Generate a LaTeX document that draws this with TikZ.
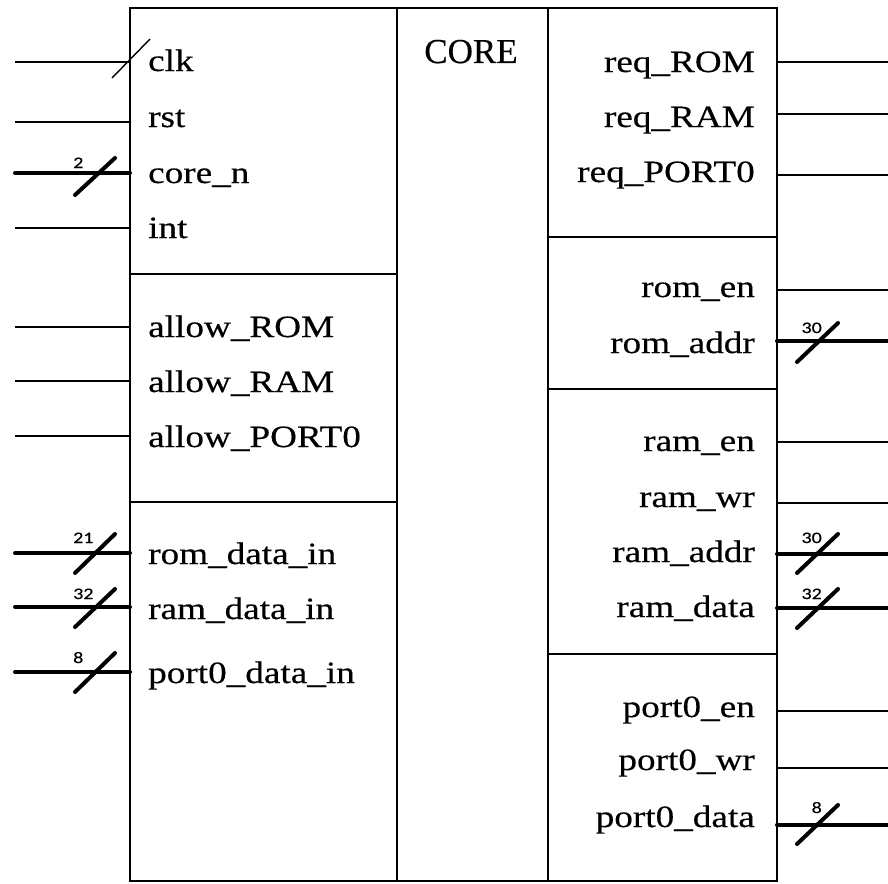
\documentclass[tikz,border=0pt]{standalone}
\usepackage{fontspec}
\setmainfont{Liberation Serif}
\newfontfamily\lblfont[FakeStretch=1.2,FakeBold=0.4]{Liberation Serif}
\newfontfamily\corefont[FakeBold=0.4]{Liberation Serif}
\newfontfamily\numfont[FakeStretch=1.25,FakeBold=0.3]{Carlito}
\usetikzlibrary{calc}
\begin{document}
\begin{tikzpicture}[x=1pt,y=-1pt,
  panel/.style={draw, line width=1.5pt, inner sep=0pt, outer sep=0pt, anchor=north west, rectangle},
  sig/.style={line width=1.4pt},
  bus/.style={line width=4pt, line cap=round},
  busslash/.style={line width=4pt, line cap=round},
  clkslash/.style={line width=1.4pt},
  lbll/.style={font=\lblfont\fontsize{31}{36}\selectfont, inner sep=0pt, anchor=base west},
  lblr/.style={font=\lblfont\fontsize{31}{36}\selectfont, inner sep=0pt, anchor=base east},
  numl/.style={font=\numfont\fontsize{16}{19}\selectfont, inner sep=0pt, anchor=base west},
  numr/.style={font=\numfont\fontsize{16}{19}\selectfont, inner sep=0pt, anchor=base east}]
\useasboundingbox (0,0) rectangle (888,883);

% panels
\node[panel, minimum width=267pt, minimum height=266pt] (L1) at (130,8) {};
\node[panel, minimum width=267pt, minimum height=228pt] (L2) at (130,274) {};
\node[panel, minimum width=267pt, minimum height=379pt] (L3) at (130,502) {};
\node[panel, minimum width=151pt, minimum height=873pt] (M) at (397,8) {};
\node[panel, minimum width=229pt, minimum height=229pt] (R1) at (548,8) {};
\node[panel, minimum width=229pt, minimum height=152pt] (R2) at (548,237) {};
\node[panel, minimum width=229pt, minimum height=265pt] (R3) at (548,389) {};
\node[panel, minimum width=229pt, minimum height=227pt] (R4) at (548,654) {};

\node[font=\corefont\fontsize{35}{40}\selectfont, inner sep=0pt, anchor=base] (core) at (471,63) {CORE};

% left labels
\node[lbll] (tclk) at (148,71) {clk};
\node[lbll] (trst) at (148,127) {rst};
\node[lbll] (tcoren) at (148,183) {core\_n};
\node[lbll] (tint) at (148,238) {int};
\node[lbll] (tarom) at (148,337) {allow\_ROM};
\node[lbll] (taram) at (148,392) {allow\_RAM};
\node[lbll] (taport) at (148,447) {allow\_PORT0};
\node[lbll] (tromd) at (148,564) {rom\_data\_in};
\node[lbll] (tramd) at (148,619) {ram\_data\_in};
\node[lbll] (tportd) at (148,683) {port0\_data\_in};

% right labels
\node[lblr] (trqrom) at (755,72) {req\_ROM};
\node[lblr] (trqram) at (755,127) {req\_RAM};
\node[lblr] (trqport) at (755,182) {req\_PORT0};
\node[lblr] (tromen) at (755,297) {rom\_en};
\node[lblr] (tromaddr) at (755,353) {rom\_addr};
\node[lblr] (tramen) at (755,451) {ram\_en};
\node[lblr] (tramwr) at (755,507) {ram\_wr};
\node[lblr] (tramaddr) at (755,562) {ram\_addr};
\node[lblr] (tramdata) at (755,617) {ram\_data};
\node[lblr] (tporten) at (755,717) {port0\_en};
\node[lblr] (tportwr) at (755,770) {port0\_wr};
\node[lblr] (tportdata) at (755,827) {port0\_data};

% left pins
\coordinate (pclk) at (15,62);
\coordinate (prst) at (15,122);
\coordinate (pcoren) at (15,173);
\coordinate (pint) at (15,228);
\coordinate (parom) at (15,327);
\coordinate (param) at (15,381);
\coordinate (paport) at (15,436);
\coordinate (promd) at (15,553);
\coordinate (pramd) at (15,607);
\coordinate (pportd) at (15,672);

\draw[sig] (pclk) -- (pclk -| L1.west);
\draw[clkslash] ($(pclk)+(97,16)$) -- ($(pclk)+(135,-23)$);
\draw[sig] (prst) -- (prst -| L1.west);
\draw[sig] (pint) -- (pint -| L1.west);
\draw[sig] (parom) -- (parom -| L2.west);
\draw[sig] (param) -- (param -| L2.west);
\draw[sig] (paport) -- (paport -| L2.west);

\draw[bus] (pcoren) -- (pcoren -| L1.west);
\draw[busslash] ($(pcoren)+(60,22)$) -- ($(pcoren)+(100,-15)$);
\node[numl] (ncoren) at (73,168) {2};
\draw[bus] (promd) -- (promd -| L3.west);
\draw[busslash] ($(promd)+(60,20)$) -- ($(promd)+(100,-19)$);
\node[numl] (nromd) at (73,543) {21};
\draw[bus] (pramd) -- (pramd -| L3.west);
\draw[busslash] ($(pramd)+(60,20)$) -- ($(pramd)+(100,-18)$);
\node[numl] (nramd) at (73,599) {32};
\draw[bus] (pportd) -- (pportd -| L3.west);
\draw[busslash] ($(pportd)+(60,20)$) -- ($(pportd)+(100,-19)$);
\node[numl] (nportd) at (73,663) {8};

% right pins
\coordinate (qrqrom) at (888,62);
\coordinate (qrqram) at (888,114);
\coordinate (qrqport) at (888,175);
\coordinate (qromen) at (888,290);
\coordinate (qromaddr) at (888,341);
\coordinate (qramen) at (888,442);
\coordinate (qramwr) at (888,503);
\coordinate (qramaddr) at (888,554);
\coordinate (qramdata) at (888,608);
\coordinate (qporten) at (888,711);
\coordinate (qportwr) at (888,768);
\coordinate (qportdata) at (888,825);

\draw[sig] (qrqrom -| R1.east) -- (qrqrom);
\draw[sig] (qrqram -| R1.east) -- (qrqram);
\draw[sig] (qrqport -| R1.east) -- (qrqport);
\draw[sig] (qromen -| R2.east) -- (qromen);
\draw[sig] (qramen -| R3.east) -- (qramen);
\draw[sig] (qramwr -| R3.east) -- (qramwr);
\draw[sig] (qporten -| R4.east) -- (qporten);
\draw[sig] (qportwr -| R4.east) -- (qportwr);

\draw[bus] (qromaddr -| R2.east) -- (qromaddr);
\draw[busslash] ($(qromaddr)+(-91,21)$) -- ($(qromaddr)+(-50,-18)$);
\node[numr] (nromaddr) at (822,333) {30};
\draw[bus] (qramaddr -| R3.east) -- (qramaddr);
\draw[busslash] ($(qramaddr)+(-91,19)$) -- ($(qramaddr)+(-50,-20)$);
\node[numr] (nramaddr) at (822,543) {30};
\draw[bus] (qramdata -| R3.east) -- (qramdata);
\draw[busslash] ($(qramdata)+(-91,20)$) -- ($(qramdata)+(-50,-19)$);
\node[numr] (nramdata) at (822,599) {32};
\draw[bus] (qportdata -| R4.east) -- (qportdata);
\draw[busslash] ($(qportdata)+(-91,19)$) -- ($(qportdata)+(-50,-20)$);
\node[numr] (nportdata) at (822,813) {8};
\end{tikzpicture}
\end{document}
